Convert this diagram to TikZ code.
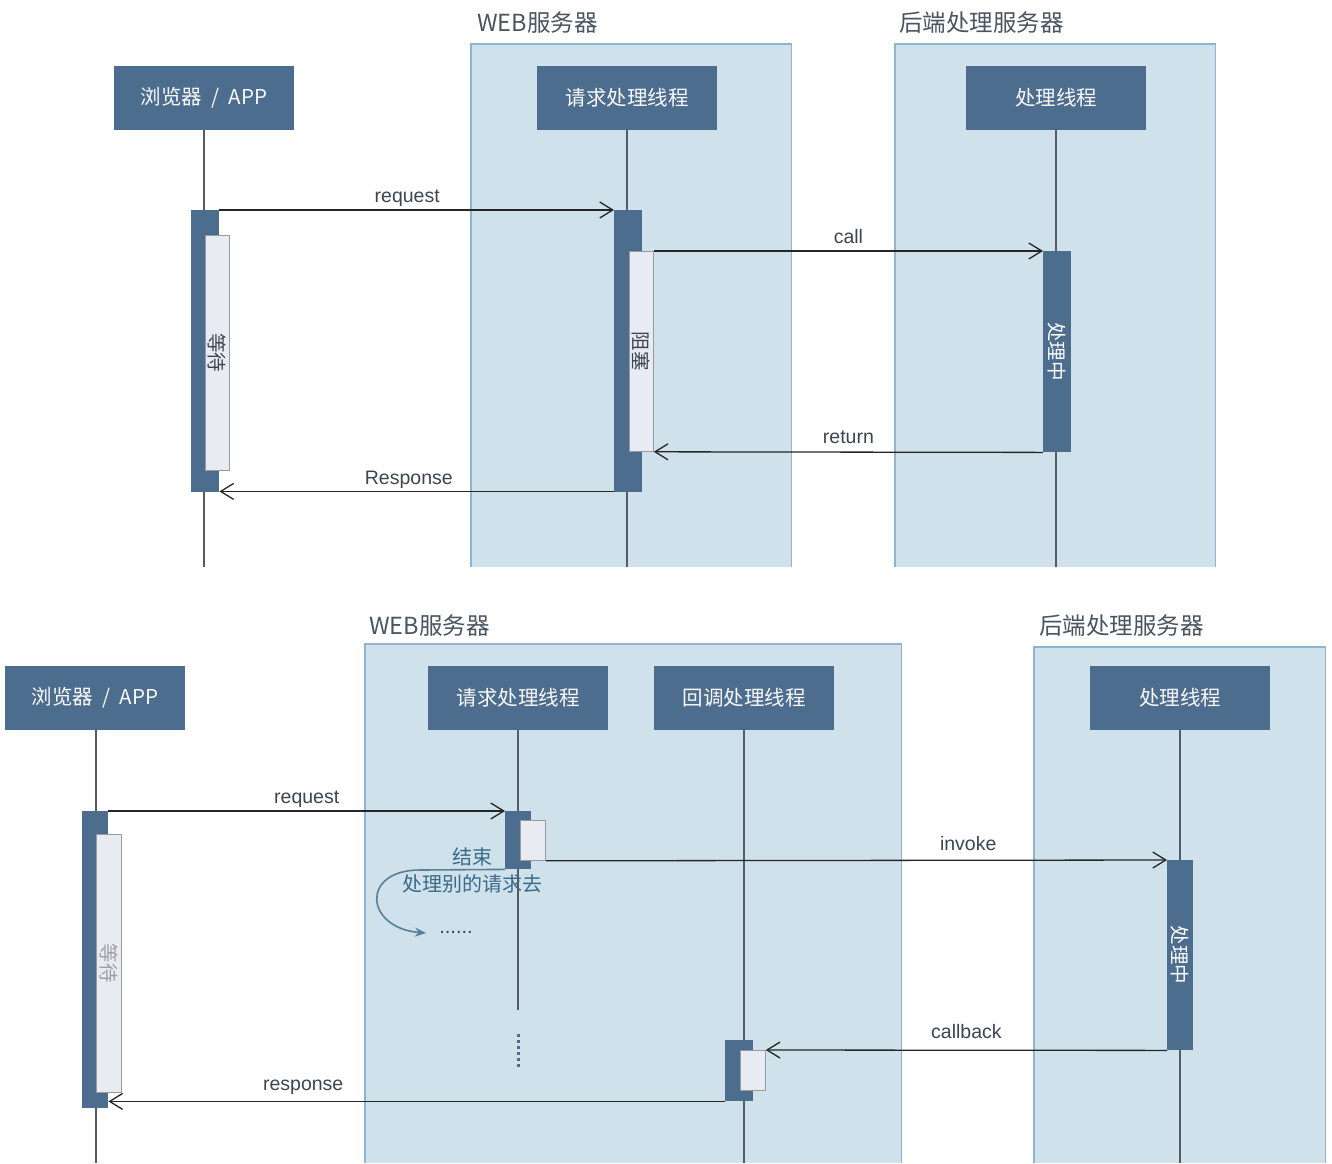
\documentclass[tikz,border=0pt]{standalone}
\usepackage{fontspec}
\setmainfont{Liberation Sans}
\newfontfamily\cjk{Noto Sans CJK SC}
\usetikzlibrary{arrows.meta}
\definecolor{hdrC}{HTML}{4D6D8E}
\definecolor{contC}{HTML}{CFE1EA}
\definecolor{contB}{HTML}{8EB4CF}
\definecolor{lightC}{HTML}{E9EBF3}
\definecolor{lightB}{HTML}{9A9A9A}
\definecolor{txtC}{HTML}{3C4650}
\definecolor{titleC}{HTML}{4A5560}
\definecolor{noteC}{HTML}{3A6A88}
\definecolor{lifeC}{HTML}{555B62}
\tikzset{
  hdr/.style={fill=hdrC, text=white!95!gray, inner sep=0pt, minimum width=180pt, minimum height=64pt, font=\cjk\fontsize{20.5}{24}\selectfont},
  cont/.style={fill=contC, draw=none, inner sep=0pt, anchor=north west},
  contline/.style={draw=contB, line width=1.5pt},
  ctitle/.style={text=titleC, font=\cjk\fontsize{23.5}{27}\selectfont, anchor=south west, inner sep=0pt},
  darkbar/.style={fill=hdrC, draw=none, inner sep=0pt, anchor=north west},
  lightbar/.style={fill=lightC, draw=lightB, line width=0.8pt, inner sep=0pt, anchor=north west},
  life/.style={draw=lifeC, line width=1.1pt},
  msg/.style={draw=black!85, line width=1.3pt, -{Straight Barb[length=13pt,width=16pt,line width=1.3pt]}},
  mlabel/.style={text=txtC, font=\fontsize{19.5}{23}\selectfont, anchor=base, inner sep=0pt},
  vtext/.style={rotate=-90, font=\cjk\fontsize{19.5}{22}\selectfont, inner sep=0pt},
  note/.style={text=noteC, font=\cjk\fontsize{20}{24}\selectfont, inner sep=0pt},
}
\begin{document}
\begin{tikzpicture}[x=1pt,y=-1pt]
\useasboundingbox[fill=white] (0,0) rectangle (1332,1163);

%%%%%%%%%%%%%%%% TOP DIAGRAM %%%%%%%%%%%%%%%%
\node[cont, minimum width=320pt, minimum height=523pt] (web1) at (471,44) {};
\draw[contline] (web1.south west) -- (web1.north west) -- (web1.north east) -- (web1.south east);
\node[ctitle] (web1t) at (477,34) {WEB服务器};
\node[cont, minimum width=320pt, minimum height=523pt] (be1) at (895,44) {};
\draw[contline] (be1.south west) -- (be1.north west) -- (be1.north east) -- (be1.south east);
\node[ctitle] (be1t) at (899,34) {后端处理服务器};

\node[hdr] (h1a) at (204,98) {浏览器 \ / \ APP};
\node[hdr] (h1b) at (627,98) {请求处理线程};
\node[hdr] (h1c) at (1056,98) {处理线程};
\coordinate (e1a) at (204,567);
\coordinate (e1b) at (627,567);
\coordinate (e1c) at (1056,567);
\draw[life] (h1a.south) -- (e1a);
\draw[life] (h1b.south) -- (e1b);
\draw[life] (h1c.south) -- (e1c);

\node[darkbar, minimum width=28pt, minimum height=282pt] (a1) at (191,210) {};
\node[lightbar, minimum width=24pt, minimum height=235pt] (a1in) at (205,235) {};
\node[vtext, text=txtC] (a1t) at (a1in.center) {等待};

\node[darkbar, minimum width=28pt, minimum height=282pt] (w1) at (614,210) {};
\node[lightbar, minimum width=24pt, minimum height=200pt] (w1in) at (629,251) {};
\node[vtext, text=txtC] (w1t) at (w1in.center) {阻塞};

\node[darkbar, minimum width=28pt, minimum height=201pt] (p1) at (1043,251) {};
\node[vtext, text=white] (p1t) at (p1.center) {处理中};

\draw[msg] (a1.north east) -- node[mlabel, pos=0.476, yshift=8pt] {request} (w1.north west);
\draw[msg] (w1in.north east) -- node[mlabel, yshift=8pt] {call} (p1.north west);
\draw[msg] (p1.south west) -- node[mlabel, yshift=9pt] {return} (w1in.south east);
\draw[msg] ([yshift=1pt]w1.south west) -- node[mlabel, pos=0.52, yshift=7pt] {Response} ([yshift=1pt]a1.south east);

%%%%%%%%%%%%%%%% BOTTOM DIAGRAM %%%%%%%%%%%%%%%%
\node[cont, minimum width=536pt, minimum height=519pt] (web2) at (365,644) {};
\draw[contline] (web2.south west) -- (web2.north west) -- (web2.north east) -- (web2.south east);
\node[ctitle] (web2t) at (369,637) {WEB服务器};
\node[cont, minimum width=291pt, minimum height=516pt] (be2) at (1034,647) {};
\draw[contline] (be2.south west) -- (be2.north west) -- (be2.north east) -- (be2.south east);
\node[ctitle] (be2t) at (1039,637) {后端处理服务器};

\node[hdr] (h2a) at (95,698) {浏览器 \ / \ APP};
\node[hdr] (h2b) at (518,698) {请求处理线程};
\node[hdr] (h2c) at (744,698) {回调处理线程};
\node[hdr] (h2d) at (1180,698) {处理线程};
\coordinate (e2a) at (96,1163);
\coordinate (e2b) at (518,1010);
\coordinate (e2c) at (744,1163);
\coordinate (e2d) at (1180,1163);
\draw[life] (h2a.south -| e2a) -- (e2a);
\draw[life] (h2b.south) -- (e2b);
\draw[life] (h2c.south) -- (e2c);
\draw[life] (h2d.south) -- (e2d);
\coordinate (d2s) at (518,1034);
\coordinate (d2e) at (518,1068);
\draw[draw=hdrC, line width=3pt, dash pattern=on 2.6pt off 3.4pt] (d2s) -- (d2e);

\node[darkbar, minimum width=26pt, minimum height=297pt] (a2) at (82,811) {};
\node[lightbar, minimum width=25pt, minimum height=258pt] (a2in) at (96,834) {};
\node[vtext, text=gray!75] (a2t) at (a2in.center) {等待};

\node[darkbar, minimum width=26pt, minimum height=58pt] (r2) at (505,811) {};
\node[lightbar, minimum width=25pt, minimum height=40pt] (r2in) at (520,820) {};

\node[darkbar, minimum width=26pt, minimum height=190pt] (p2) at (1167,860) {};
\node[vtext, text=white] (p2t) at (p2.center) {处理中};

\node[darkbar, minimum width=28pt, minimum height=61pt] (c2) at (725,1040) {};
\node[lightbar, minimum width=25pt, minimum height=40pt] (c2in) at (740,1050) {};

\draw[msg] (a2.north east) -- node[mlabel, yshift=8pt] {request} (r2.north west);
\draw[msg] (r2in.south east) -- node[mlabel, pos=0.68, yshift=10pt] {invoke} (p2.north west);
\draw[msg] (p2.south west) -- node[mlabel, yshift=12pt] {callback} (c2in.north east);
\draw[msg] (c2.south west) -- node[mlabel, pos=0.684, yshift=11pt] {response} (c2.south west -| a2.east);

% note: end, go handle other requests
\node[note] (n1) at (472,857) {结束};
\node[note] (n2) at (472,884) {处理别的请求去};
\coordinate (cv0) at (420,870);
\coordinate (cv1) at (426,933);
\draw[draw=noteC!85!white, line width=1.6pt, -{Stealth[length=11pt,width=9pt]}]
  (r2.south west) -- (cv0) .. controls (360,870) and (365,928) .. (cv1);
\node[text=txtC, font=\fontsize{20}{22}\selectfont, inner sep=0pt, anchor=base] (dots) at (456,933) {......};
\end{tikzpicture}
\end{document}
